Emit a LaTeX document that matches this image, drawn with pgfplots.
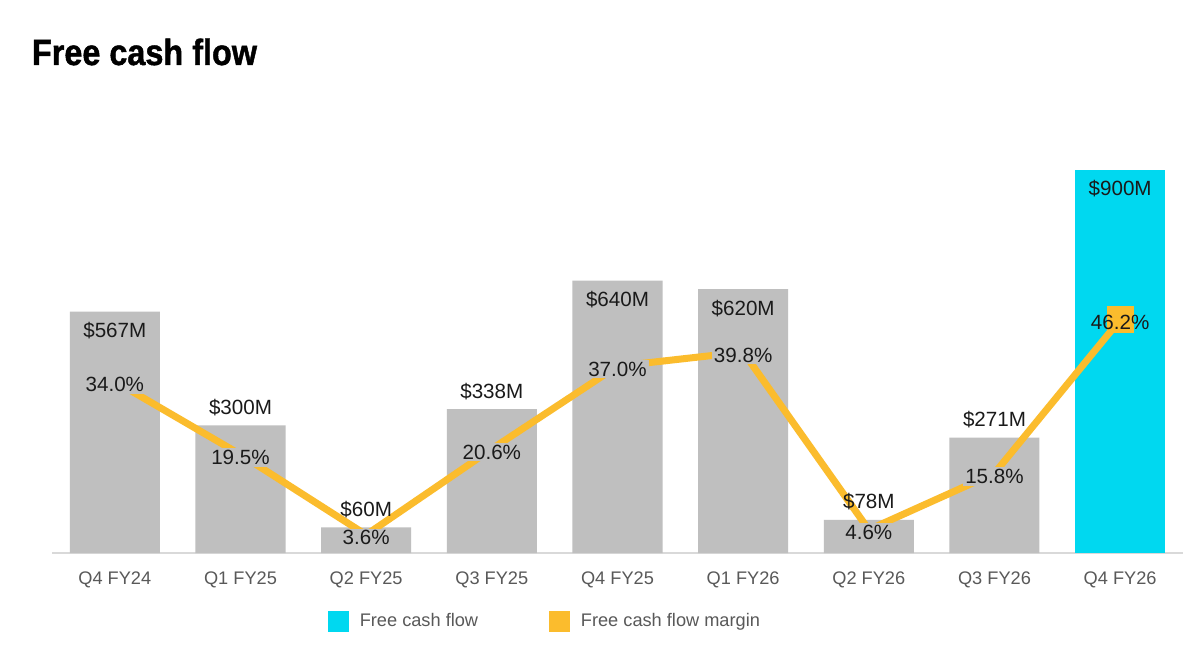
\documentclass[border=0pt]{standalone}
\usepackage{pgfplots}
\pgfplotsset{compat=1.18}
\usepackage{fontspec}
\setmainfont{Liberation Sans}
\newfontfamily\titlefont[FakeStretch=0.89, FakeBold=1.2]{Liberation Sans Bold}
\definecolor{barGray}{RGB}{191,191,191}
\definecolor{fcfCyan}{RGB}{0,216,240}
\definecolor{fcmYellow}{RGB}{251,188,45}
\definecolor{tickGray}{RGB}{89,89,89}
\definecolor{axisGray}{RGB}{217,217,217}
\definecolor{labelBlack}{RGB}{26,26,26}
\pgfplotsset{base/.style={scale only axis, width=565.5pt, height=212.8pt,
  xmin=-0.5, xmax=8.5, ymin=0, at={(26pt,45.5pt)}, anchor=south west, clip=false}}
\begin{document}
\begin{tikzpicture}
\fill[white] (0,0) rectangle (600pt,322pt);
\useasboundingbox (0,0) rectangle (600pt,322pt);
\node[anchor=base west, inner sep=0pt, font=\titlefont\fontsize{18.2}{20}\selectfont] at (15.8pt,289.5pt) {Free cash flow};
% bars
\begin{axis}[base, ymax=1000,
  axis y line=none, axis x line*=bottom,
  x axis line style={draw=axisGray, line width=0.6pt, -},
  xtick={0,...,8},
  xticklabels={Q4 FY24, Q1 FY25, Q2 FY25, Q3 FY25, Q4 FY25, Q1 FY26, Q2 FY26, Q3 FY26, Q4 FY26},
  major tick length=0pt,
  xticklabel style={font=\fontsize{9.1}{11}\selectfont, text=tickGray, anchor=base, yshift=-15.5pt},
  legend style={at={(0,0)}, anchor=west, xshift=138pt, yshift=-34pt, draw=none, fill=none,
    inner sep=0pt, outer sep=0pt, legend columns=2, font=\fontsize{9.1}{11}\selectfont,
    text=tickGray, nodes={inner sep=0pt},
    /tikz/every odd column/.append style={column sep=5.5pt},
    /tikz/every even column/.append style={column sep=35.5pt}},
  legend cell align=left]
\addplot[forget plot, ybar, bar width=45pt, bar shift=0pt, fill=barGray, draw=none]
  coordinates {(0,567) (1,300) (2,60) (3,338) (4,640) (5,620) (6,78) (7,271)};
\addplot[forget plot, ybar, bar width=45pt, bar shift=0pt, fill=fcfCyan, draw=none]
  coordinates {(8,900)};
\addlegendimage{legend image code/.code={\fill[fcfCyan] (0pt,-5pt) rectangle (10pt,5pt);}}
\addlegendentry{Free cash flow}
\addlegendimage{legend image code/.code={\fill[fcmYellow] (0pt,-5pt) rectangle (10pt,5pt);}}
\addlegendentry{Free cash flow margin}
\end{axis}
% margin line
\begin{axis}[base, ymax=84.28, hide axis]
\addplot[fcmYellow, line width=3.5pt, line join=round]
  coordinates {(0,34.0) (1,19.5) (2,3.6) (3,20.6) (4,37.0) (5,39.8) (6,4.6) (7,15.8) (8,46.2)};
\addplot[only marks, mark=square*, mark size=6.5pt, color=fcmYellow] coordinates {(8,46.2)};
\addplot[draw=none, nodes near coords, point meta=explicit symbolic,
  every node near coord/.append style={anchor=center, fill=barGray, inner sep=1pt, yshift=-1.5pt,
    font=\fontsize{10.3}{12}\selectfont, text=labelBlack}]
  coordinates {(0,34.0)[34.0\%] (1,19.5)[19.5\%] (2,3.6)[3.6\%] (3,20.6)[20.6\%] (4,37.0)[37.0\%] (5,39.8)[39.8\%] (6,4.6)[4.6\%] (7,15.8)[15.8\%]};
\addplot[draw=none, nodes near coords, point meta=explicit symbolic,
  every node near coord/.append style={anchor=center, inner sep=1pt, yshift=-1.5pt,
    font=\fontsize{10.3}{12}\selectfont, text=labelBlack}]
  coordinates {(8,46.2)[46.2\%]};
\end{axis}
% bar labels
\begin{axis}[base, ymax=1000, hide axis]
\addplot[draw=none, nodes near coords, point meta=explicit symbolic,
  every node near coord/.append style={anchor=center, yshift=-9.5pt,
    font=\fontsize{10.3}{12}\selectfont, text=labelBlack}]
  coordinates {(0,567)[\$567M] (4,640)[\$640M] (5,620)[\$620M] (8,900)[\$900M]};
\addplot[draw=none, nodes near coords, point meta=explicit symbolic,
  every node near coord/.append style={anchor=center, yshift=9pt,
    font=\fontsize{10.3}{12}\selectfont, text=labelBlack}]
  coordinates {(1,300)[\$300M] (2,60)[\$60M] (3,338)[\$338M] (6,78)[\$78M] (7,271)[\$271M]};
\end{axis}
\end{tikzpicture}
\end{document}
